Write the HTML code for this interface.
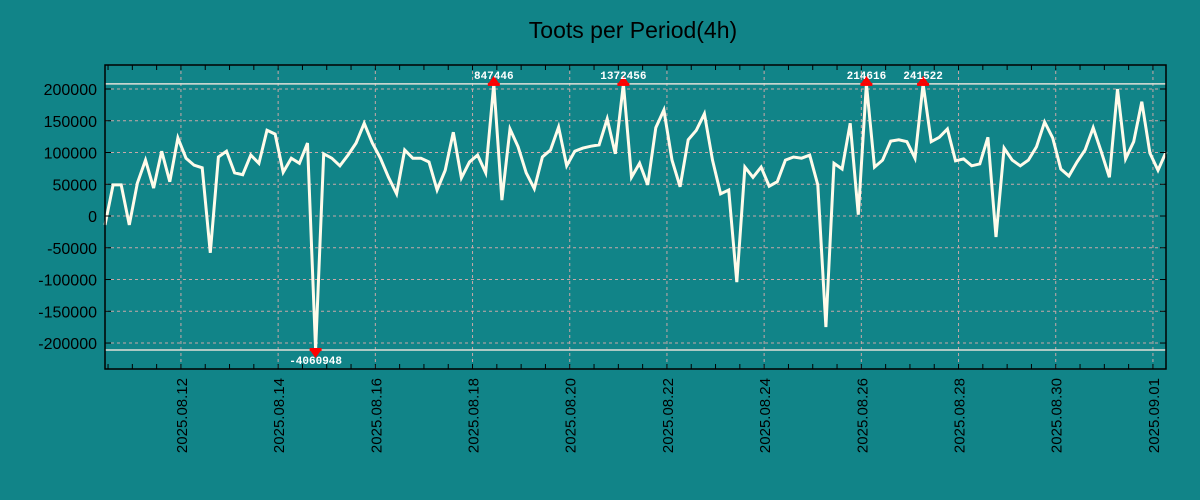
<!DOCTYPE html>
<html><head><meta charset="utf-8"><style>
html,body{margin:0;padding:0;background:#118488;}
svg{display:block;font-family:"Liberation Sans",sans-serif;}
</style></head><body>
<svg id="chart" width="1200" height="500" viewBox="0 0 1200 500" xmlns="http://www.w3.org/2000/svg">
<rect x="0" y="0" width="1200" height="500" fill="#118488"/>
<text x="633" y="38" text-anchor="middle" font-size="23" fill="#000">Toots per Period(4h)</text>
<g id="grid"></g><g id="clip"></g><g id="series"></g><g id="marks"></g><g id="axes"></g>
</svg>
<script>
const values = [-14,49,49,-14,52,88,44,102,54,123,91,80,76,-58,93,102,68,65,96,83,135,129,69,91,83,115,-4060948,98,91,79,96,115,146,115,91,61,35,104,91,91,85,41,72,132,60,85,96,68,847446,25,137,109,68,43,93,104,140,79,102,107,110,112,153,98,1372456,61,83,49,139,167,88,46,120,135,161,88,35,41,-104,77,61,77,47,54,88,93,91,96,49,-175,83,74,146,2,214616,77,88,118,120,117,91,241522,117,124,137,87,90,79,82,124,-33,107,88,79,88,109,148,123,74,63,85,104,139,101,61,200,90,117,180,99,72,101];
const yTicks = [200000,150000,100000,50000,0,-50000,-100000,-150000,-200000];
const dateTicks = ["2025.08.12","2025.08.14","2025.08.16","2025.08.18","2025.08.20","2025.08.22","2025.08.24","2025.08.26","2025.08.28","2025.08.30","2025.09.01"];
const clipMax = 208000, clipMin = -211000;
const startTime = "2025-08-10T10:30:00Z";
const periodHours = 4;

const NS="http://www.w3.org/2000/svg";
const L=105,R=1166,T=65,B=369;
const vMax=237800,vMin=-240900;
const t0=Date.parse(startTime);
const pxPerHour=8.1/4;
function xTime(ms){return L+(ms-t0)/3600000*pxPerHour;}
function xIdx(i){return xTime(t0+i*periodHours*3600000);}
function y(v){return T+(vMax-v)/(vMax-vMin)*(B-T);}
function realVal(v){return Math.abs(v)<10000?v*1000:v;}
function mk(tag,attrs,parent){const e=document.createElementNS(NS,tag);for(const k in attrs)e.setAttribute(k,attrs[k]);parent.appendChild(e);return e;}
const grid=document.getElementById('grid'),axes=document.getElementById('axes'),series=document.getElementById('series'),marks=document.getElementById('marks'),clipG=document.getElementById('clip');

yTicks.forEach(v=>{
  const g=mk('line',{x1:L,x2:R,y1:y(v),y2:y(v),stroke:'#c8a8a8','stroke-width':1,'stroke-dasharray':'3,3'},grid);
  
  
  const t1=mk('line',{x1:L,x2:L+6,y1:y(v),y2:y(v),stroke:'#000'},axes);
  
  
  const t2=mk('line',{x1:R-6,x2:R,y1:y(v),y2:y(v),stroke:'#000'},axes);
  
  
  const lb=mk('text',{x:97,y:y(v)+6,'text-anchor':'end','font-size':16,fill:'#000'},axes);
  lb.textContent=String(v);
  
  
});
dateTicks.forEach(d=>{
  const ms=Date.parse(d.replace(/\./g,'-')+'T00:00:00Z');
  const x=xTime(ms);
  const g=mk('line',{x1:x,x2:x,y1:T,y2:B,stroke:'#c8a8a8','stroke-width':1,'stroke-dasharray':'3,3'},grid);
  
  
  const lb=mk('text',{transform:`translate(${x+6},378) rotate(-90)`,'text-anchor':'end','font-size':15,fill:'#000'},axes);
  lb.textContent=d;
  
  
});
// minor ticks every 12h
for(let ms=Date.parse("2025-08-10T12:00:00Z");ms<=Date.parse("2025-09-02T00:00:00Z");ms+=12*3600000){
  const x=xTime(ms); if(x<L||x>R)continue;
  const tk=mk('line',{x1:x,x2:x,y1:B,y2:B-5,stroke:'#000'},axes);
  
  
  const tk2=mk('line',{x1:x,x2:x,y1:T,y2:T+5,stroke:'#000'},axes);
  
  
}
const fr=mk('rect',{x:L,y:T,width:R-L,height:B-T,fill:'none',stroke:'#000','stroke-width':1.5},axes);


[clipMax,clipMin].forEach(c=>{
  const l=mk('line',{x1:L,x2:R,y1:y(c),y2:y(c),stroke:'#e0e0d8','stroke-width':1.5},clipG);
  
  
});
let pts=[];
values.forEach((v,i)=>{
  const rv=realVal(v);
  const cv=Math.max(clipMin,Math.min(clipMax,rv));
  const x=xIdx(i),yy=y(cv);
  pts.push(x.toFixed(1)+','+yy.toFixed(1));
  if(rv>clipMax||rv<clipMin){
    const up=rv>clipMax;
    const tri=mk('polygon',{points:up?`${x-5},${yy-1} ${x+5},${yy-1} ${x},${yy-8}`:`${x-5},${yy+1} ${x+5},${yy+1} ${x},${yy+8}`,fill:'#f00'},marks);
    
    
    const bar=mk('rect',{x:x-6,y:up?yy-1:yy-2,width:12,height:3,fill:'#f00'},marks);
    
    
    const lb=mk('text',{x:x,y:up?yy-5:yy+14,'text-anchor':'middle','font-size':11,'font-weight':'bold',fill:'#fff','font-family':'Liberation Mono, monospace'},marks);
    lb.textContent=String(rv);
    
    
  }
});
const pl=mk('polyline',{points:pts.join(' '),fill:'none',stroke:'#fffbea','stroke-width':3,'stroke-linejoin':'miter'},series);


</script>
</body></html>
